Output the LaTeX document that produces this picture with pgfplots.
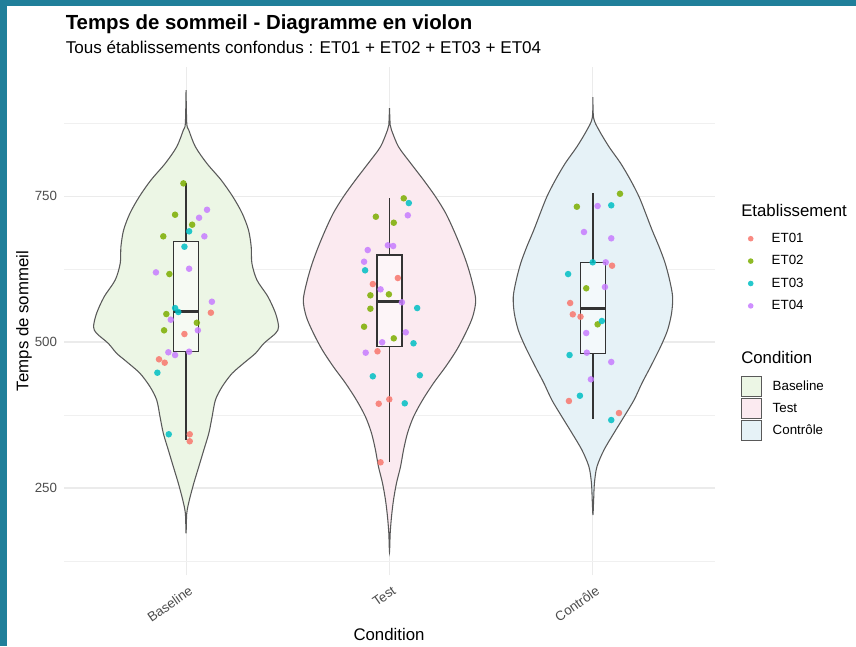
\documentclass[border=0pt]{standalone}
\usepackage{fontspec}
\setmainfont{Liberation Sans}
\usepackage{pgfplots}
\pgfplotsset{compat=1.18}
\usepackage{pgfplotstable}

\definecolor{frame}{HTML}{207F9A}
\definecolor{cA}{HTML}{F8766D}
\definecolor{cB}{HTML}{7CAE00}
\definecolor{cC}{HTML}{00BFC4}
\definecolor{cD}{HTML}{C77CFF}
\definecolor{fBase}{HTML}{ECF6E5}
\definecolor{fTest}{HTML}{FBEAF0}
\definecolor{fCtrl}{HTML}{E6F2F7}
\definecolor{vline}{HTML}{595959}
\definecolor{bline}{HTML}{333333}
\definecolor{gridmajor}{HTML}{EBEBEB}
\definecolor{gridminor}{HTML}{F0F0F0}
\definecolor{tickc}{HTML}{4D4D4D}

% violin outlines: value v, half width w (pixels), side s
\pgfplotstableread{
v w s
931.5 0 -1
874.5 0.7 -1
863 2.7 -1
834.4 9.3 -1
806 20.7 -1
777.4 35 -1
748.8 46.7 -1
720.4 56 -1
691.8 62.3 -1
663.2 65 -1
634.8 65.7 -1
606.2 70.7 -1
577.6 81.7 -1
549.1 89.3 -1
526.2 92.3 -1
514.9 89.3 -1
497.8 77.7 -1
480.7 69.3 -1
466.3 59.3 -1
446.4 46 -1
423.5 36 -1
400.7 29.3 -1
372.1 26 -1
343.7 22.7 -1
315.1 17.7 -1
286.5 12.7 -1
258.1 7.7 -1
229.5 3.3 -1
206.7 0.7 -1
172.4 0 1
206.7 0.7 1
229.5 3.3 1
258.1 7.7 1
286.5 12.7 1
315.1 17.7 1
343.7 22.7 1
372.1 26 1
400.7 29.3 1
423.5 36 1
446.4 46 1
466.3 59.3 1
480.7 69.3 1
497.8 77.7 1
514.9 89.3 1
526.2 92.3 1
549.1 89.3 1
577.6 81.7 1
606.2 70.7 1
634.8 65.7 1
663.2 65 1
691.8 62.3 1
720.4 56 1
748.8 46.7 1
777.4 35 1
806 20.7 1
834.4 9.3 1
863 2.7 1
874.5 0.7 1
931.5 0 1
}\vBase

\pgfplotstableread{
v w s
900.7 0 -1
871.6 0.7 -1
863 2 -1
834.4 9 -1
806.5 21 -1
777.4 34 -1
748.8 46 -1
720.9 56 -1
691.8 64 -1
663.2 71 -1
635.3 77 -1
606.2 82 -1
571.9 86 -1
543.3 83 -1
515.4 76 -1
486.3 67 -1
457.7 56 -1
429.8 44 -1
400.7 33 -1
372.1 24 -1
344.2 18 -1
315.1 14 -1
286.5 11 -1
258.6 7 -1
229.5 4 -1
200.9 2 -1
172.9 0.7 -1
140.4 0 1
172.9 0.7 1
200.9 2 1
229.5 4 1
258.6 7 1
286.5 11 1
315.1 14 1
344.2 18 1
372.1 24 1
400.7 33 1
429.8 44 1
457.7 56 1
486.3 67 1
515.4 76 1
543.3 83 1
571.9 86 1
606.2 82 1
635.3 77 1
663.2 71 1
691.8 64 1
720.9 56 1
748.8 46 1
777.4 34 1
806.5 21 1
834.4 9 1
863 2 1
871.6 0.7 1
900.7 0 1
}\vTest

\pgfplotstableread{
v w s
919.5 0 -1
883.6 0.7 -1
863 6 -1
834.4 16 -1
806.5 27.5 -1
777.4 37.5 -1
748.8 46 -1
720.9 52.5 -1
691.8 59 -1
663.2 66 -1
635.3 72 -1
606.2 76.5 -1
577.6 79.5 -1
549.7 78.5 -1
520.5 74.5 -1
492 67.5 -1
457.7 57.5 -1
429.8 49 -1
400.7 41 -1
372.1 31 -1
344.2 21 -1
315.1 11 -1
286.5 4 -1
258.6 1.5 -1
229.5 0.7 -1
203.8 0 1
229.5 0.7 1
258.6 1.5 1
286.5 4 1
315.1 11 1
344.2 21 1
372.1 31 1
400.7 41 1
429.8 49 1
457.7 57.5 1
492 67.5 1
520.5 74.5 1
549.7 78.5 1
577.6 79.5 1
606.2 76.5 1
635.3 72 1
663.2 66 1
691.8 59 1
720.9 52.5 1
748.8 46 1
777.4 37.5 1
806.5 27.5 1
834.4 16 1
863 6 1
883.6 0.7 1
919.5 0 1
}\vCtrl

\pgfplotsset{
  panel/.style={
    at={(48pt,53.25pt)}, anchor=south west,
    scale only axis, width=488.25pt, height=381pt,
  },
  legstyle/.style={
    draw=none, fill=none, inner sep=0pt, outer sep=0pt,
    anchor=north west,
    font=\fontsize{10}{12}\selectfont,
    nodes={inner sep=0pt},
    /tikz/every even column/.append style={text height=7.2pt, text depth=0pt},
    /tikz/every odd column/.append style={column sep=8.25pt},
  },
  boxs/.style={draw=bline, line width=0.85pt, forget plot},
  pts/.style={only marks, mark=*, mark size=2.45pt, color=#1,
    mark options={solid, draw=#1, draw opacity=0, fill=#1, fill opacity=0.85}, forget plot},
}

\begin{document}
\begin{tikzpicture}
\path[use as bounding box, fill=white] (0pt,0pt) rectangle (642pt,484.5pt);

\begin{axis}[
  panel,
  xmin=-0.6, xmax=2.6, ymin=101, ymax=971,
  axis line style={draw=none}, tick style={draw=none},
  major tick length=0pt,
  xtick={0,1,2}, xticklabels={Baseline,Test,Contrôle},
  ytick={250,500,750}, minor ytick={125,375,625,875},
  grid=both,
  major grid style={draw=gridmajor, line width=0.8pt},
  minor grid style={draw=gridminor, line width=0.45pt},
  /pgf/number format/assume math mode=true,
  yticklabel style={font=\fontsize{10}{12}\selectfont, text=tickc, inner sep=0pt, xshift=-5pt},
  xticklabel style={font=\fontsize{10}{12}\selectfont, text=tickc, inner sep=0pt, xshift=1.5pt, yshift=-7.5pt, rotate=35, anchor=north east},
  legend style={legstyle, at={(axis description cs:1.0395,0.6817)}, row sep=1.8pt},
  legend cell align=left,
]
% ---- violins ----
\addplot[fill=fBase, draw=vline, line width=0.8pt, smooth, tension=0.5, forget plot] table[x expr={0+\thisrow{s}*\thisrow{w}/203}, y=v] {\vBase};
\addplot[fill=fTest, draw=vline, line width=0.8pt, smooth, tension=0.5, forget plot] table[x expr={1+\thisrow{s}*\thisrow{w}/203}, y=v] {\vTest};
\addplot[fill=fCtrl, draw=vline, line width=0.8pt, smooth, tension=0.5, forget plot] table[x expr={2+\thisrow{s}*\thisrow{w}/203}, y=v] {\vCtrl};

% ---- boxes (whiskers, box, median) ----
\addplot[boxs] coordinates {(0,771.7) (0,671.7)};
\addplot[boxs] coordinates {(0,483.4) (0,332.2)};
\addplot[boxs, fill=white, fill opacity=0.55, line join=miter] coordinates {(-0.0616,483.4) (0.0616,483.4) (0.0616,671.7) (-0.0616,671.7) (-0.0616,483.4) (0.0616,483.4)};
\addplot[boxs, line width=2.2pt] coordinates {(-0.0616,551.9) (0.0616,551.9)};

\addplot[boxs] coordinates {(1,746) (1,649)};
\addplot[boxs] coordinates {(1,492) (1,295)};
\addplot[boxs, fill=white, fill opacity=0.55, line join=miter] coordinates {(0.9384,492) (1.0616,492) (1.0616,649) (0.9384,649) (0.9384,492) (1.0616,492)};
\addplot[boxs, line width=2.2pt] coordinates {(0.9384,569) (1.0616,569)};

\addplot[boxs] coordinates {(2,754.6) (2,636.5)};
\addplot[boxs] coordinates {(2,480.6) (2,368)};
\addplot[boxs, fill=white, fill opacity=0.55, line join=miter] coordinates {(1.9384,480.6) (2.0616,480.6) (2.0616,636.5) (1.9384,636.5) (1.9384,480.6) (2.0616,480.6)};
\addplot[boxs, line width=2.2pt] coordinates {(1.9384,557.7) (2.0616,557.7)};

% ---- points ----
\addplot[pts=cA] coordinates {
(0.122,550.2) (-0.008,513.7) (-0.133,470.4) (-0.105,464.6) (0.018,342.0) (0.018,330.0)
(1.041,609.6) (0.918,599.3) (0.941,484.1) (0.999,401.9) (0.947,394.3) (0.956,294.0)
(2.094,630.7) (1.888,566.8) (1.901,547.4) (1.939,543.3) (1.882,399.0) (2.128,378.4)
};
\addplot[pts=cB] coordinates {
(-0.013,771.7) (-0.054,718.0) (0.030,700.9) (-0.112,681.0) (-0.082,616.4) (-0.097,547.9) (0.053,533.0) (-0.108,520.0)
(1.070,746.1) (0.933,714.6) (1.021,704.3) (0.906,580.0) (0.997,581.7) (0.906,557.0) (0.875,526.2) (1.021,506.3)
(2.133,753.9) (1.921,731.7) (1.967,592.0) (2.023,530.3)
};
\addplot[pts=cC] coordinates {
(0.015,689.6) (-0.008,663.2) (-0.054,558.2) (-0.038,551.4) (-0.141,447.4) (-0.085,342.0)
(1.095,738.0) (0.880,622.8) (1.136,558.2) (1.118,497.8) (0.918,441.3) (1.149,443.0) (1.075,395.0)
(2.090,734.1) (1.999,636.5) (1.878,616.4) (2.044,536.0) (1.885,477.7) (1.936,408.0) (2.090,366.4)
};
\addplot[pts=cD] coordinates {
(0.103,726.5) (0.064,712.8) (0.090,681.0) (-0.148,619.3) (0.015,625.5) (0.127,569.0) (-0.075,538.2) (0.058,520.0) (-0.087,482.4) (-0.054,477.7) (0.015,483.4)
(1.090,717.0) (0.992,665.6) (1.018,664.4) (0.893,657.5) (0.875,637.5) (0.956,590.2) (1.061,568.0) (1.080,516.6) (0.964,499.5) (0.883,481.7)
(2.023,732.9) (1.956,688.4) (2.090,677.6) (2.063,636.5) (2.059,594.2) (1.967,515.4) (1.970,481.7) (2.090,465.8) (1.990,436.1)
};

% ---- legend: Etablissement ----
\addlegendimage{legend image code/.code={\path[draw=none, fill=none] (0pt,-7.5pt) rectangle (15pt,7.5pt); \path[draw=none, fill=cA, fill opacity=0.85] (7.5pt,0pt) circle (2.1pt);}}
\addlegendentry{ET01}
\addlegendimage{legend image code/.code={\path[draw=none, fill=none] (0pt,-7.5pt) rectangle (15pt,7.5pt); \path[draw=none, fill=cB, fill opacity=0.85] (7.5pt,0pt) circle (2.1pt);}}
\addlegendentry{ET02}
\addlegendimage{legend image code/.code={\path[draw=none, fill=none] (0pt,-7.5pt) rectangle (15pt,7.5pt); \path[draw=none, fill=cC, fill opacity=0.85] (7.5pt,0pt) circle (2.1pt);}}
\addlegendentry{ET03}
\addlegendimage{legend image code/.code={\path[draw=none, fill=none] (0pt,-7.5pt) rectangle (15pt,7.5pt); \path[draw=none, fill=cD, fill opacity=0.85] (7.5pt,0pt) circle (2.1pt);}}
\addlegendentry{ET04}
\end{axis}

% ---- legend: Condition ----
\begin{axis}[
  panel, hide axis, xmin=0, xmax=1, ymin=0, ymax=1,
  legend style={legstyle, at={(axis description cs:1.0395,0.3917)}, row sep=0.75pt},
  legend cell align=left,
]
\addlegendimage{legend image code/.code={\draw[draw=vline, fill=fBase, line width=0.75pt] (0pt,-7.5pt) rectangle (15pt,7.5pt);}}
\addlegendentry{Baseline}
\addlegendimage{legend image code/.code={\draw[draw=vline, fill=fTest, line width=0.75pt] (0pt,-7.5pt) rectangle (15pt,7.5pt);}}
\addlegendentry{Test}
\addlegendimage{legend image code/.code={\draw[draw=vline, fill=fCtrl, line width=0.75pt] (0pt,-7.5pt) rectangle (15pt,7.5pt);}}
\addlegendentry{Contrôle}
\end{axis}

% ---- titles and labels ----
\begin{scope}[x=0.75pt,y=0.75pt]
\node[anchor=base west, inner sep=0pt, font=\bfseries\fontsize{15.3}{18}\selectfont] at (65.5,616) {Temps de sommeil - Diagramme en violon};
\node[anchor=base west, inner sep=0pt, font=\fontsize{12.8}{15}\selectfont] at (65.5,592) {Tous établissements confondus : ET01 + ET02 + ET03 + ET04};
\node[anchor=base, inner sep=0pt, font=\fontsize{12.6}{15}\selectfont] at (389,6) {Condition};
\node[rotate=90, anchor=center, inner sep=0pt, font=\fontsize{12.6}{15}\selectfont] at (24,325) {Temps de sommeil};
\node[anchor=base west, inner sep=0pt, font=\fontsize{12.6}{15}\selectfont] at (741,429.3) {Etablissement};
\node[anchor=base west, inner sep=0pt, font=\fontsize{12.6}{15}\selectfont] at (741,282) {Condition};
\fill[frame] (0,640.3) rectangle (856,646);
\fill[frame] (0,0) rectangle (6.7,646);
\end{scope}
\end{tikzpicture}
\end{document}
